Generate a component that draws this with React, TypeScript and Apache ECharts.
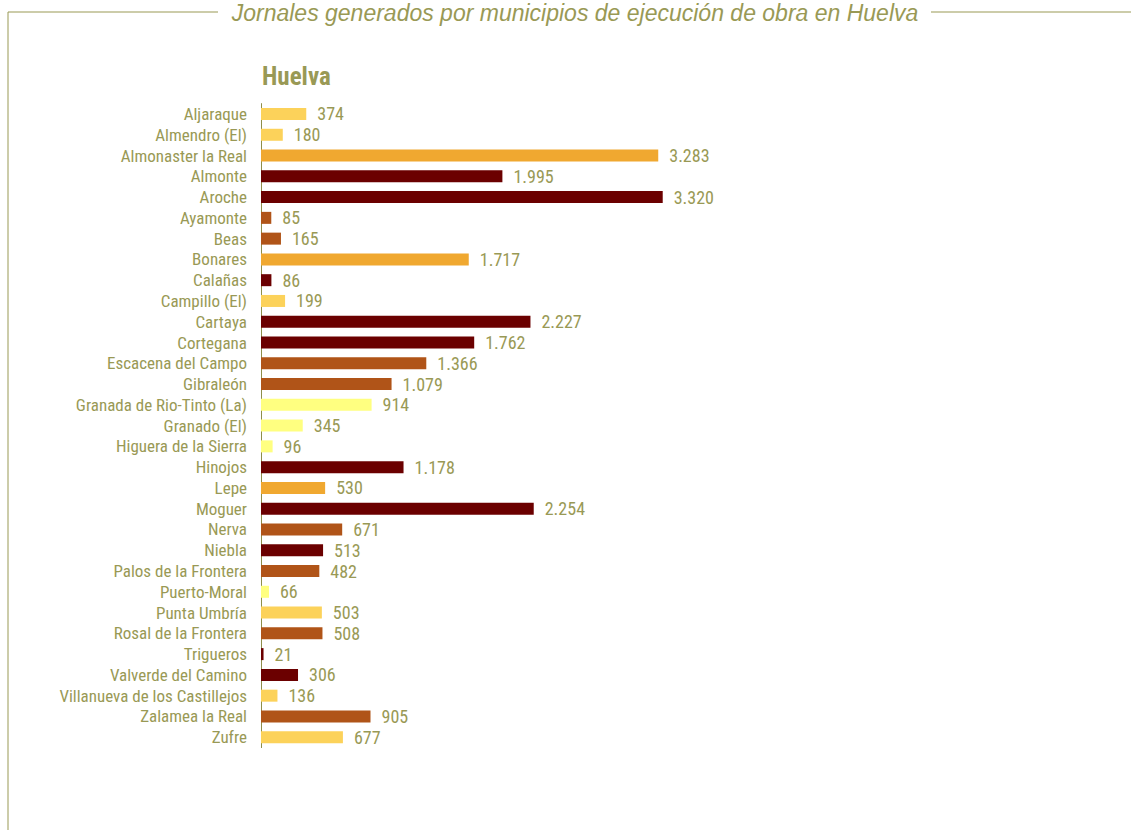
import React, { useEffect, useRef } from "react";
import * as echarts from "echarts";

const categories = [
  "Aljaraque", "Almendro (El)", "Almonaster la Real", "Almonte", "Aroche", "Ayamonte", "Beas",
  "Bonares", "Calañas", "Campillo (El)", "Cartaya", "Cortegana", "Escacena del Campo", "Gibraleón",
  "Granada de Rio-Tinto (La)", "Granado (El)", "Higuera de la Sierra", "Hinojos", "Lepe", "Moguer",
  "Nerva", "Niebla", "Palos de la Frontera", "Puerto-Moral", "Punta Umbría", "Rosal de la Frontera",
  "Trigueros", "Valverde del Camino", "Villanueva de los Castillejos", "Zalamea la Real", "Zufre",
];

const values = [
  374, 180, 3283, 1995, 3320, 85, 165, 1717, 86, 199, 2227, 1762, 1366, 1079, 914, 345, 96, 1178,
  530, 2254, 671, 513, 482, 66, 503, 508, 21, 306, 136, 905, 677,
];

// colour group per municipality
const groups = [
  "Y", "Y", "O", "R", "R", "B", "B", "O", "R", "Y", "R", "R", "B", "B", "L", "L", "L", "R", "O", "R",
  "B", "R", "B", "L", "Y", "B", "R", "R", "Y", "B", "Y",
];

const palette: Record<string, string> = {
  L: "#FFFF80",
  Y: "#FCD25A",
  O: "#F0A830",
  B: "#B05418",
  R: "#6B0000",
};

const TEXT = "#999955";
const FONT = "'Liberation Sans Narrow', 'Arial Narrow', 'Roboto Condensed', sans-serif";

const fmt = (v: number) => String(v).replace(/\B(?=(\d{3})+(?!\d))/g, ".");

export default function App() {
  const ref = useRef<HTMLDivElement>(null);
  useEffect(() => {
    if (!ref.current) return;
    const chart = echarts.init(ref.current, undefined, { renderer: "svg" });
    chart.setOption({
      animation: false,
      backgroundColor: "#ffffff",
      grid: { left: 261, top: 103.6, width: 484, height: 644, containLabel: false },
      xAxis: {
        type: "value",
        min: 0,
        max: 4000,
        show: false,
      },
      yAxis: {
        type: "category",
        inverse: true,
        data: categories,
        axisLine: { show: true, lineStyle: { color: "#8e8e4a", width: 1 } },
        axisTick: { show: false },
        axisLabel: { color: TEXT, fontSize: 17, fontFamily: FONT, margin: 14, interval: 0 },
      },
      series: [
        {
          type: "bar",
          barWidth: 12,
          data: values.map((v, i) => ({ value: v, itemStyle: { color: palette[groups[i]] } })),
          label: {
            show: true,
            position: "right",
            distance: 11,
            color: TEXT,
            fontSize: 18,
            fontFamily: FONT,
            formatter: (p: any) => fmt(p.value),
          },
        },
      ],
      graphic: [
        {
          type: "line",
          shape: { x1: 8, y1: 12, x2: 218, y2: 12 },
          style: { stroke: "#999955", lineWidth: 1 },
        },
        {
          type: "line",
          shape: { x1: 931, y1: 12, x2: 1131, y2: 12 },
          style: { stroke: "#999955", lineWidth: 1 },
        },
        {
          type: "line",
          shape: { x1: 8, y1: 12, x2: 8, y2: 830 },
          style: { stroke: "#999955", lineWidth: 1 },
        },
        {
          type: "text",
          x: 575,
          y: 13,
          style: {
            text: "Jornales generados por municipios de ejecución de obra en Huelva",
            fill: "#999955",
            fontSize: 23,
            fontStyle: "italic",
            fontFamily: "'Liberation Sans', Arial, sans-serif",
            align: "center",
            verticalAlign: "middle",
          },
        },
        {
          type: "text",
          x: 262,
          y: 76,
          style: {
            text: "Huelva",
            fill: "#999955",
            fontSize: 25,
            fontWeight: "bold",
            fontFamily: FONT,
            align: "left",
            verticalAlign: "middle",
          },
        },
      ],
    });
    return () => chart.dispose();
  }, []);
  return (
    <div
      ref={ref}
      style={{ position: "fixed", left: 0, top: 0, width: 1131, height: 830 }}
    />
  );
}
